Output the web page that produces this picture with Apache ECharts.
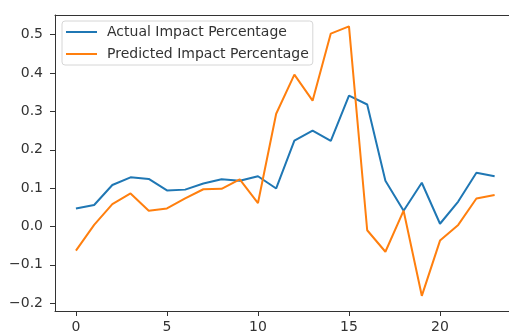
<!DOCTYPE html>
<html>
<head>
<meta charset="utf-8">
<script src="https://cdn.jsdelivr.net/npm/echarts@6/dist/echarts.min.js"></script>
<style>
  html, body { margin: 0; padding: 0; background: #fff; }
  #show { width: 509px; height: 334px; }
</style>
</head>
<body>
<div id="show"></div>
<script>
var myChart = echarts.init(document.getElementById("show"));

// step index 0..23
var steps = [0, 1, 2, 3, 4, 5, 6, 7, 8, 9, 10, 11, 12, 13, 14, 15, 16, 17, 18, 19, 20, 21, 22, 23];
var actual = [0.047, 0.056, 0.108, 0.128, 0.124, 0.094, 0.096, 0.112, 0.123, 0.119, 0.131, 0.099,
              0.224, 0.250, 0.223, 0.341, 0.318, 0.119, 0.041, 0.114, 0.007, 0.065, 0.140, 0.131];
var predicted = [-0.063, 0.004, 0.058, 0.086, 0.041, 0.047, 0.073, 0.097, 0.098, 0.123, 0.061, 0.294,
                 0.396, 0.328, 0.503, 0.522, -0.010, -0.066, 0.041, -0.181, -0.037, 0.004, 0.073, 0.082];
var seriesNames = ['Actual Impact Percentage', 'Predicted Impact Percentage'];
var xTicks = [0, 5, 10, 15, 20];
var yTicks = [-0.2, -0.1, 0.0, 0.1, 0.2, 0.3, 0.4, 0.5];

function pairs(ys) {
    return steps.map(function (x, i) { return [x, ys[i]]; });
}

var font = 'DejaVu Sans';
var axisColor = '#333';
var textColor = '#333';

myChart.setOption(option = {
    animation: false,
    grid: { left: 55, right: 0, top: 15, bottom: 19 },
    legend: {
        orient: 'vertical',
        left: 62,
        top: 21,
        padding: [4, 4, 4, 4],
        icon: 'rect',
        itemWidth: 31,
        itemHeight: 2,
        itemGap: 8,
        borderColor: '#d6d6d6',
        borderWidth: 1,
        borderRadius: 3,
        backgroundColor: '#fff',
        textStyle: { fontFamily: font, fontSize: 14, color: textColor, padding: [0, 0, 0, 5] },
        data: seriesNames
    },
    xAxis: [
        {
            type: 'value',
            min: -1.15,
            max: 23.79,
            splitLine: { show: false },
            axisLine: { onZero: false, lineStyle: { color: axisColor } },
            axisTick: { length: 5, customValues: xTicks, lineStyle: { color: axisColor } },
            axisLabel: {
                customValues: xTicks,
                margin: 9,
                fontFamily: font,
                fontSize: 14,
                color: textColor
            }
        },
        {
            type: 'value',
            position: 'top',
            min: -1.15,
            max: 23.79,
            splitLine: { show: false },
            axisLine: { onZero: false, lineStyle: { color: axisColor } },
            axisTick: { show: false },
            axisLabel: { show: false }
        }
    ],
    yAxis: {
        type: 'value',
        min: -0.2206,
        max: 0.5515,
        splitLine: { show: false },
        axisLine: { show: true, onZero: false, lineStyle: { color: axisColor } },
        axisTick: { show: true, length: 5, customValues: yTicks, lineStyle: { color: axisColor } },
        axisLabel: {
            customValues: yTicks,
            margin: 12,
            fontFamily: font,
            fontSize: 14,
            color: textColor,
            formatter: function (v) { return v.toFixed(1).replace('-', '\u2212'); }
        }
    },
    series: [
        {
            name: seriesNames[0],
            type: 'line',
            data: pairs(actual),
            symbol: 'none',
            lineStyle: { color: '#1f77b4', width: 2 },
            itemStyle: { color: '#1f77b4' }
        },
        {
            name: seriesNames[1],
            type: 'line',
            data: pairs(predicted),
            symbol: 'none',
            lineStyle: { color: '#ff7f0e', width: 2 },
            itemStyle: { color: '#ff7f0e' }
        }
    ]
});
</script>
</body>
</html>
